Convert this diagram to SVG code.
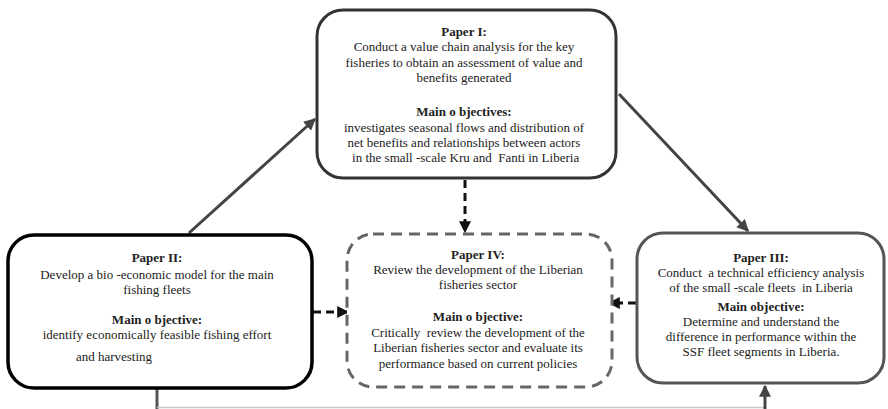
<svg xmlns="http://www.w3.org/2000/svg" width="888" height="409" viewBox="0 0 888 409">
  <defs>
    <style>
      text { font-family: "Liberation Serif", "Times New Roman", serif; font-size: 13px; fill: #222; text-anchor: middle; white-space: pre; }
      .h { font-weight: bold; }
      .box { fill: #ffffff; }
      .solid-arrow { fill: none; stroke: #444; stroke-width: 3; }
      .dash-arrow { fill: none; stroke: #111; stroke-width: 3; stroke-dasharray: 8 5; }
    </style>
    <marker id="headGray" viewBox="0 0 10 10" refX="9" refY="5" markerWidth="4" markerHeight="4" orient="auto" markerUnits="strokeWidth">
      <path d="M0,0 L10,5 L0,10 z" fill="#444"/>
    </marker>
    <marker id="headBlack" viewBox="0 0 10 10" refX="9" refY="5" markerWidth="4" markerHeight="4" orient="auto" markerUnits="strokeWidth">
      <path d="M0,0 L10,5 L0,10 z" fill="#111"/>
    </marker>
  </defs>
  <rect width="888" height="409" fill="#ffffff"/>

  <!-- connectors -->
  <g id="connectors">
    <line class="solid-arrow" x1="189" y1="233" x2="315" y2="119" marker-end="url(#headGray)"/>
    <line class="solid-arrow" x1="619" y1="94" x2="748" y2="231" marker-end="url(#headGray)"/>
    <line class="dash-arrow" x1="465" y1="180" x2="465" y2="232" marker-end="url(#headBlack)"/>
    <line class="dash-arrow" x1="313" y1="312" x2="348" y2="312" marker-end="url(#headBlack)"/>
    <line class="dash-arrow" x1="636" y1="303" x2="609" y2="303" marker-end="url(#headBlack)"/>
    <!-- bottom link from Paper II to Paper III -->
    <line x1="157" y1="389" x2="157" y2="409" stroke="#555" stroke-width="3"/>
    <line x1="157" y1="407.5" x2="765" y2="407.5" stroke="#c8c8c8" stroke-width="1.5"/>
    <line class="solid-arrow" x1="765" y1="409" x2="765" y2="386" marker-end="url(#headGray)"/>
  </g>

  <!-- Paper I -->
  <g id="paper1">
    <rect class="box" x="317" y="10" width="299" height="168" rx="26" stroke="#333" stroke-width="3"/>
    <text class="h" x="464" y="36">Paper I:</text>
    <text x="464" y="51">Conduct a value chain analysis for the key</text>
    <text x="464" y="67">fisheries to obtain an assessment of value and</text>
    <text x="464" y="82">benefits generated</text>
    <text class="h" x="464" y="116">Main o bjectives:</text>
    <text x="464" y="132">investigates seasonal flows and distribution of</text>
    <text x="464" y="147">net benefits and relationships between actors</text>
    <text x="464" y="162"> in the small -scale Kru and  Fanti in Liberia</text>
  </g>

  <!-- Paper II -->
  <g id="paper2">
    <rect class="box" x="8" y="235" width="304" height="153" rx="26" stroke="#000" stroke-width="3.5"/>
    <text class="h" x="157" y="262">Paper II:</text>
    <text x="157" y="279">Develop a bio -economic model for the main</text>
    <text x="157" y="294">fishing fleets</text>
    <text class="h" x="157" y="324">Main o bjective:</text>
    <text x="157" y="339">identify economically feasible fishing effort</text>
    <text x="114" y="361">and harvesting</text>
  </g>

  <!-- Paper IV -->
  <g id="paper4">
    <rect class="box" x="347" y="234" width="265" height="153" rx="26" stroke="#666" stroke-width="3" stroke-dasharray="11 7"/>
    <text class="h" x="478" y="259">Paper IV:</text>
    <text x="478" y="274">Review the development of the Liberian</text>
    <text x="478" y="289">fisheries sector</text>
    <text class="h" x="478" y="321">Main o bjective:</text>
    <text x="478" y="337">Critically  review the development of the</text>
    <text x="478" y="352">Liberian fisheries sector and evaluate its</text>
    <text x="478" y="368">performance based on current policies</text>
  </g>

  <!-- Paper III -->
  <g id="paper3">
    <rect class="box" x="637" y="233" width="247" height="150" rx="26" stroke="#555" stroke-width="3"/>
    <text class="h" x="761" y="262">Paper III:</text>
    <text x="761" y="277">Conduct  a technical efficiency analysis</text>
    <text x="761" y="292">of the small -scale fleets  in Liberia</text>
    <text class="h" x="761" y="311">Main objective:</text>
    <text x="761" y="326">Determine and understand the</text>
    <text x="761" y="341">difference in performance within the</text>
    <text x="761" y="356">SSF fleet segments in Liberia.</text>
  </g>
</svg>
